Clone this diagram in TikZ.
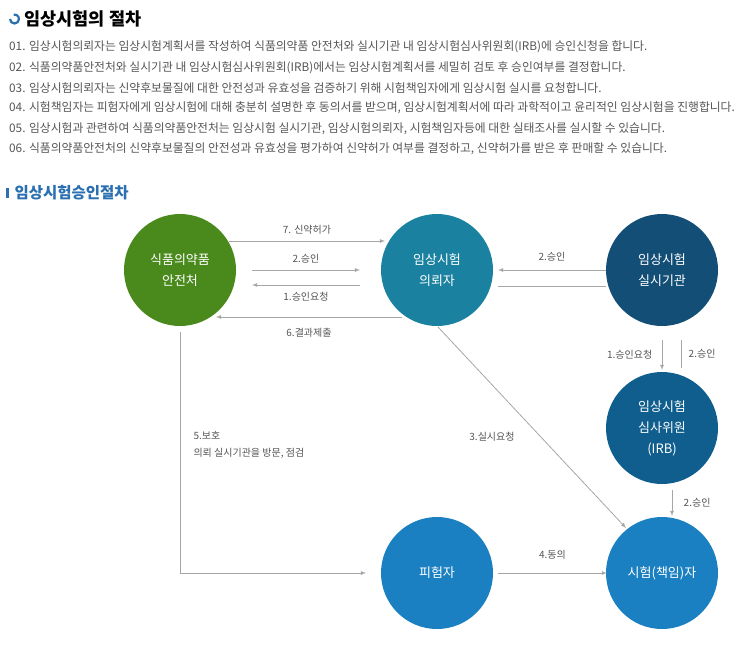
\documentclass[tikz,border=0pt]{standalone}
\usepackage{fontspec}
\setmainfont{Noto Sans CJK KR}
\usetikzlibrary{positioning}
\definecolor{fdagreen}{HTML}{4A8A1C}
\definecolor{sponsor}{HTML}{1A82A0}
\definecolor{siteblue}{HTML}{124E76}
\definecolor{irbblue}{HTML}{0F5E8E}
\definecolor{subjblue}{HTML}{1B80C2}
\definecolor{headblue}{HTML}{2A6FB0}
\definecolor{txtgray}{HTML}{555555}
\tikzset{
  party/.style={circle,minimum size=112pt,inner sep=0pt,text=white,align=center,font=\fontsize{13}{21}\selectfont},
  flow/.style={draw=gray!70,line width=0.8pt,-latex},
  plain/.style={draw=gray!70,line width=0.8pt},
  lbl/.style={font=\fontsize{10}{17}\selectfont,text=txtgray}
}
\begin{document}
\begin{tikzpicture}[x=1pt,y=-1pt]
\useasboundingbox (0,0) rectangle (743,650);
% header
\draw[headblue,line width=2.2pt] (10,19) arc[start angle=180,end angle=-100,radius=4.5];
\node[anchor=west,font=\fontsize{17.5}{20}\selectfont\bfseries] (title) at (21,19) {임상시험의 절차};
\foreach \i/\t in {0/{01. 임상시험의뢰자는 임상시험계획서를 작성하여 식품의약품 안전처와 실시기관 내 임상시험심사위원회(IRB)에 승인신청을 합니다.},
  1/{02. 식품의약품안전처와 실시기관 내 임상시험심사위원회(IRB)에서는 임상시험계획서를 세밀히 검토 후 승인여부를 결정합니다.},
  2/{03. 임상시험의뢰자는 신약후보물질에 대한 안전성과 유효성을 검증하기 위해 시험책임자에게 임상시험 실시를 요청합니다.},
  3/{04. 시험책임자는 피험자에게 임상시험에 대해 충분히 설명한 후 동의서를 받으며, 임상시험계획서에 따라 과학적이고 윤리적인 임상시험을 진행합니다.},
  4/{05. 임상시험과 관련하여 식품의약품안전처는 임상시험 실시기관, 임상시험의뢰자, 시험책임자등에 대한 실태조사를 실시할 수 있습니다.},
  5/{06. 식품의약품안전처의 신약후보물질의 안전성과 유효성을 평가하여 신약허가 여부를 결정하고, 신약허가를 받은 후 판매할 수 있습니다.}}
  \node[anchor=west,font=\fontsize{11.8}{13}\selectfont,text=txtgray,inner sep=0pt] (line\i) at (9,47+\i*20.3) {\t};
\fill[headblue] (6,188) rectangle (8.5,198);
\node[anchor=west,font=\fontsize{15.5}{18}\selectfont\bfseries,text=headblue] (sub) at (11,193) {임상시험승인절차};

% parties
\node[party,fill=fdagreen] (mfds) at (180,270) {식품의약품\\안전처};
\node[party,fill=sponsor] (sponsor) at (437,270) {임상시험\\의뢰자};
\node[party,fill=siteblue] (site) at (662,270) {임상시험\\실시기관};
\node[party,fill=irbblue] (irb) at (662,428) {임상시험\\심사위원\\(IRB)};
\node[party,fill=subjblue] (subject) at (437,573) {피험자};
\node[party,fill=subjblue] (inv) at (662,573) {시험(책임)자};

% end points
\coordinate (a1) at (229,241); \coordinate (a2) at (385,241);
\coordinate (b1) at (252,270); \coordinate (b2) at (360,270);
\coordinate (c1) at (360,285); \coordinate (c2) at (252,285);
\coordinate (d1) at (402,317); \coordinate (d2) at (216,317);
\coordinate (e1) at (606,270); \coordinate (e2) at (498,270);
\coordinate (f1) at (498,286); \coordinate (f2) at (606,286);
\coordinate (g1) at (662,340); \coordinate (g2) at (662,370);
\coordinate (h1) at (681,340); \coordinate (h2) at (681,368);
\coordinate (k1) at (672,490); \coordinate (k2) at (672,516);
\coordinate (m1) at (438,327); \coordinate (m2) at (626,528);
\coordinate (p1) at (180,332); \coordinate (p2) at (180,573); \coordinate (p3) at (366,573);
\coordinate (q1) at (498,573); \coordinate (q2) at (607,573);

\draw[flow] (a1) -- node[lbl,above=3pt] (l7) {7. 신약허가} (a2);
\draw[flow] (b1) -- node[lbl,above=3pt] (l2a) {2.승인} (b2);
\draw[flow] (c1) -- node[lbl,below=3pt] (l1a) {1.승인요청} (c2);
\draw[flow] (d1) -- node[lbl,below=7pt] (l6) {6.결과제출} (d2);
\draw[flow] (e1) -- node[lbl,above=5pt] (l2b) {2.승인} (e2);
\draw[plain] (f1) -- (f2);
\draw[flow] (g1) -- node[lbl,left=6pt] (l1b) {1.승인요청} (g2);
\draw[plain] (h1) -- node[lbl,right=4pt] (l2c) {2.승인} (h2);
\draw[flow] (k1) -- node[lbl,right=8pt] (l2d) {2.승인} (k2);
\draw[flow] (m1) -- (m2);
\node[lbl] (l3) at (492,437) {3.실시요청};
\draw[flow] (p1) -- (p2) -- (p3);
\node[lbl,anchor=west,align=left] (l5) at (190,445) {5.보호\\의뢰 실시기관을 방문, 점검};
\draw[flow] (q1) -- node[lbl,above=10pt] (l4) {4.동의} (q2);
\end{tikzpicture}
\end{document}
